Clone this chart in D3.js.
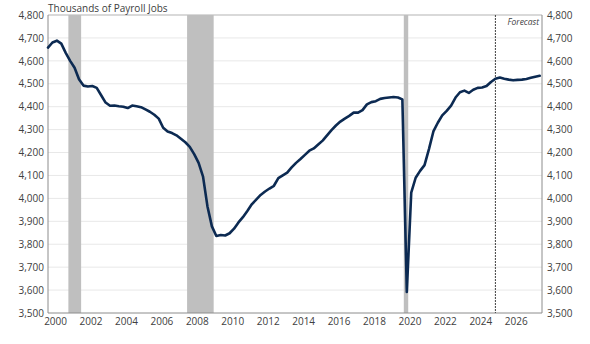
<!DOCTYPE html>
<html>
<head>
<meta charset="utf-8">
<script src="https://cdn.jsdelivr.net/npm/d3@7"></script>
<style>
  html, body { margin: 0; padding: 0; background: #fff; }
  svg { display: block; }
  text { font-family: "Open Sans", "Noto Sans", sans-serif; fill: #404040; }
</style>
</head>
<body>
<svg id="chart" width="590" height="344"></svg>
<script>
// ---- data ----
const startYear = 2000;          // first quarter = 2000 Q1
const jobs = [
  4658, 4680, 4688, 4675,  // 2000
  4635, 4600, 4570, 4520,  // 2001
  4492, 4488, 4490, 4482,  // 2002
  4450, 4418, 4404, 4405,  // 2003
  4402, 4400, 4394, 4405,  // 2004
  4402, 4398, 4388, 4378,  // 2005
  4365, 4348, 4308, 4292,  // 2006
  4285, 4275, 4260, 4245,  // 2007
  4225, 4193, 4155, 4095,  // 2008
  3965, 3878, 3836, 3840,  // 2009
  3838, 3848, 3868, 3895,  // 2010
  3918, 3945, 3974, 3995,  // 2011
  4015, 4030, 4043, 4055,  // 2012
  4088, 4100, 4112, 4135,  // 2013
  4155, 4172, 4190, 4208,  // 2014
  4218, 4235, 4252, 4275,  // 2015
  4298, 4318, 4335, 4348,  // 2016
  4360, 4374, 4374, 4385,  // 2017
  4410, 4420, 4424, 4434,  // 2018
  4438, 4440, 4442, 4440,  // 2019
  4432, 3592, 4025, 4090,  // 2020
  4120, 4145, 4215, 4292,  // 2021
  4330, 4362, 4382, 4405,  // 2022
  4440, 4463, 4470, 4460,  // 2023
  4474, 4482, 4484, 4490,  // 2024
  4508, 4522, 4527, 4522,  // 2025
  4518, 4515, 4517, 4518,  // 2026
  4521, 4526, 4531, 4535   // 2027
];
const recessions = [[2001.15, 2001.87], [2007.85, 2009.35], [2020.08, 2020.33]];
const forecastStart = 2025.25;
const yTicks = [3500, 3600, 3700, 3800, 3900, 4000, 4100, 4200, 4300, 4400, 4500, 4600, 4700, 4800];
const xTicks = [2000, 2002, 2004, 2006, 2008, 2010, 2012, 2014, 2016, 2018, 2020, 2022, 2024, 2026];
const titleText = "Thousands of Payroll Jobs";
const forecastText = "Forecast";

// ---- layout ----
const L = 48, R = 542, T = 15, B = 313;
const svg = d3.select("#chart");
const x = d3.scaleLinear().domain([2000, 2027.88]).range([L, R]);
const y = d3.scaleLinear().domain([3500, 4800]).range([B, T]);
const fmt = d3.format(",");

// gridlines
svg.append("g").selectAll("line").data(yTicks.slice(1)).join("line")
  .attr("x1", L).attr("x2", R)
  .attr("y1", d => y(d)).attr("y2", d => y(d))
  .attr("stroke", "#e8e8e8").attr("stroke-width", 1);

// recession bands
svg.append("g").selectAll("rect").data(recessions).join("rect")
  .attr("x", d => x(d[0])).attr("width", d => x(d[1]) - x(d[0]))
  .attr("y", T).attr("height", B - T)
  .attr("fill", "#bfbfbf");

// frame
svg.append("line").attr("x1", L).attr("x2", R).attr("y1", T).attr("y2", T).attr("stroke", "#bfbfbf");
svg.append("line").attr("x1", L).attr("x2", L).attr("y1", T).attr("y2", B).attr("stroke", "#8c8c8c");
svg.append("line").attr("x1", R).attr("x2", R).attr("y1", T).attr("y2", B).attr("stroke", "#8c8c8c");
svg.append("line").attr("x1", L).attr("x2", R).attr("y1", B).attr("y2", B).attr("stroke", "#8c8c8c");

// forecast divider
svg.append("line")
  .attr("x1", x(forecastStart)).attr("x2", x(forecastStart))
  .attr("y1", T).attr("y2", B)
  .attr("stroke", "#404040").attr("stroke-width", 1).attr("stroke-dasharray", "2,1");
svg.append("text").attr("x", R - 3).attr("y", T + 10)
  .attr("text-anchor", "end").attr("font-size", 8.5).attr("font-style", "italic")
  .text(forecastText);

// line
const pts = jobs.map((v, i) => ({ t: startYear + i / 4, v }));
svg.append("path").datum(pts)
  .attr("fill", "none").attr("stroke", "#0c2a52").attr("stroke-width", 2.6)
  .attr("stroke-linejoin", "round").attr("stroke-linecap", "round")
  .attr("d", d3.line().x(d => x(d.t)).y(d => y(d.v)));

// y axes
const yAxisL = d3.axisLeft(y).tickValues(yTicks).tickFormat(fmt).tickSize(0).tickPadding(4);
const gl = svg.append("g").attr("transform", `translate(${L},0)`).call(yAxisL);
const yAxisR = d3.axisRight(y).tickValues(yTicks).tickFormat(fmt).tickSize(0).tickPadding(5);
const gr = svg.append("g").attr("transform", `translate(${R},0)`).call(yAxisR);

// x axis (labels offset slightly right of the year start)
const xAxis = d3.axisBottom(x).tickValues(xTicks.map(d => d + 0.4)).tickFormat(d => Math.round(d - 0.4)).tickSize(0).tickPadding(5);
const gx = svg.append("g").attr("transform", `translate(0,${B})`).call(xAxis);

[gl, gr, gx].forEach(g => {
  g.select(".domain").remove();
  g.selectAll("text").attr("font-size", 10).attr("fill", "#404040")
    .style("font-family", '"Open Sans", "Noto Sans", sans-serif');
});

// title
svg.append("text").attr("x", L).attr("y", T - 3)
  .attr("font-size", 10).text(titleText);
</script>
</body>
</html>
